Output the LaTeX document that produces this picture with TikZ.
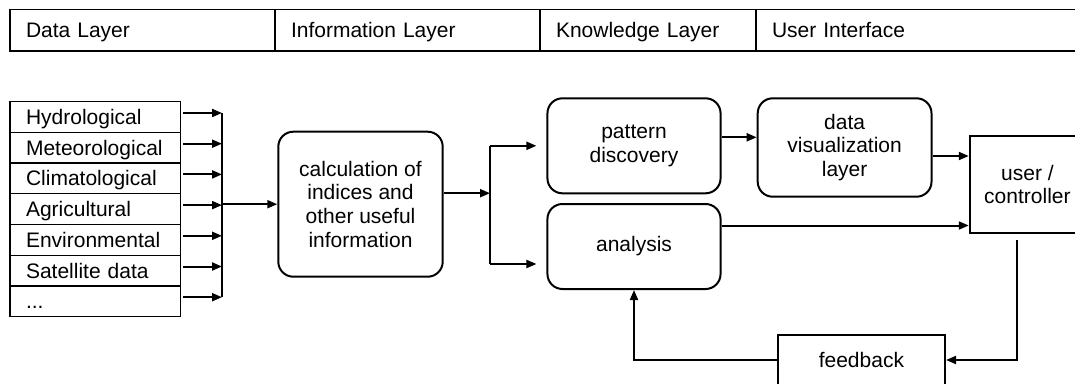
\documentclass[tikz,border=0pt]{standalone}
\usepackage{fontspec}
\setmainfont{Liberation Sans}
\usetikzlibrary{arrows.meta}

\begin{document}
\begin{tikzpicture}[x=1pt, y=-1pt,
    txt/.style={font=\fontsize{21}{23.8}\selectfont},
    layer/.style={txt, draw, line width=1.3pt, rectangle, minimum height=41.7pt, text height=15pt, text depth=0pt, inner xsep=16pt, align=left},
    datarow/.style={txt, draw, line width=1.3pt, rectangle, minimum height=30.7pt, text width=138.7pt, text height=15pt, text depth=0pt, inner xsep=16pt, inner ysep=0pt, align=left},
    block/.style={txt, draw, line width=2pt, rounded corners=15pt, align=center},
    plain/.style={txt, draw, line width=2pt, align=center},
    wire/.style={line width=2pt},
    arr/.style={line width=2pt, -{Triangle[length=10pt,width=8pt]}}]
    \useasboundingbox (0,0) rectangle (1075,383);
    \clip (0,0) rectangle (1075,383);

    % Draw layers
    \node[layer, text width=233pt] (layerData) at (142.5,30.2) {Data Layer};
    \node[layer, text width=233pt] (layerInfo) at (407.5,30.2) {Information Layer};
    \node[layer, text width=184pt] (layerKnow) at (648,30.2) {Knowledge Layer};
    \node[layer, text width=308pt] (layerUser) at (926,30.2) {User Interface};

    % Draw data sources
    \node[datarow] (hydro) at (95.4,117) {Hydrological};
    \node[datarow] (meteo) at (95.4,147.7) {Meteorological};
    \node[datarow] (clima) at (95.4,178.4) {Climatological};
    \node[datarow] (agri) at (95.4,209.1) {Agricultural};
    \node[datarow] (env) at (95.4,239.8) {Environmental};
    \node[datarow] (sat) at (95.4,270.5) {Satellite data};
    \node[datarow] (more) at (95.4,301.2) {...};

    % Draw blocks
    \node[block, minimum width=164.4pt, minimum height=145pt] (calc) at (360.5,204.2) {calculation of\\indices and\\other useful\\information};
    \node[block, minimum width=173.1pt, minimum height=95pt] (pattern) at (634,145.8) {pattern\\discovery};
    \node[block, minimum width=173.1pt, minimum height=85pt] (analysis) at (634,246.5) {analysis};
    \node[block, minimum width=173.8pt, minimum height=98.4pt] (dataviz) at (844.6,147.5) {data\\visualization\\layer};
    \node[plain, minimum width=115.3pt, minimum height=96.7pt] (user) at (1027.4,184.4) {user /\\controller};
    \node[plain, minimum width=167.3pt, minimum height=50pt] (feedback) at (861.4,360) {feedback};

    % Helper coordinates
    \coordinate (busX) at (222,0);
    \coordinate (splitX) at (490,0);
    \coordinate (splitB) at (490,264);
    \coordinate (ret) at (1017.3,240);

    % Draw connections
    \foreach \src in {hydro,meteo,clima,agri,env,sat,more}
        \draw[arr, shorten <=2pt] ([yshift=4pt]\src.east) -- ([yshift=4pt]\src.east -| busX);
    \draw[wire] ([yshift=4pt]hydro.east -| busX) -- ([yshift=4pt]more.east -| busX);
    \draw[arr] (calc.west -| busX) -- (calc.west);

    \draw[arr] ([yshift=11pt]calc.east) -- ([yshift=11pt]calc.east -| splitX);
    \draw[wire] (pattern.west -| splitX) -- (splitB);
    \draw[arr, shorten >=10pt] (pattern.west -| splitX) -- (pattern.west);
    \draw[arr, shorten >=10pt] (splitB) -- (splitB -| analysis.west);

    \draw[arr] ([yshift=8.5pt]pattern.east) -- ([yshift=8.5pt]pattern.east -| dataviz.west);
    \draw[arr] ([yshift=-8.5pt]dataviz.east) -- ([yshift=-8.5pt]dataviz.east -| user.west);
    \draw[arr] ([yshift=21pt]analysis.east) -- ([yshift=21pt]analysis.east -| user.west);

    \draw[arr] (ret) |- (feedback.east);
    \draw[arr] (feedback.west) -| (analysis.south);
\end{tikzpicture}
\end{document}
